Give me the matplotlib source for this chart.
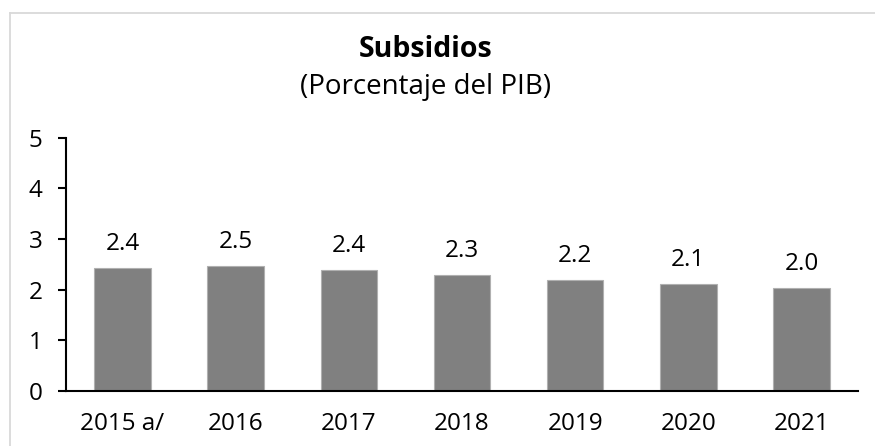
import matplotlib as mpl
mpl.use('Agg')
import matplotlib.pyplot as plt
from matplotlib.lines import Line2D

categorias = ["2015 a/", "2016", "2017", "2018", "2019", "2020", "2021"]
valores = [2.42, 2.47, 2.38, 2.29, 2.19, 2.11, 2.03]
etiquetas = ["2.4", "2.5", "2.4", "2.3", "2.2", "2.1", "2.0"]

plt.rcParams['font.family'] = ['Open Sans', 'DejaVu Sans']

fig = plt.figure(figsize=(8.75, 4.46), dpi=100)
ax = fig.add_axes([0.0754, 0.124, 0.9052, 0.567])

x = range(len(categorias))
ax.bar(x, valores, width=0.5, color='#808080', edgecolor='#b0b0b0', linewidth=0.8, zorder=2)

for i, v in enumerate(valores):
    ax.annotate(etiquetas[i], (i, v), xytext=(0, 13), textcoords='offset points',
                ha='center', va='baseline', fontsize=17.5)

ax.set_xlim(-0.5, len(categorias) - 0.5)
ax.set_ylim(0, 5)
ax.set_yticks([0, 1, 2, 3, 4, 5])
ax.set_xticks(list(x))
ax.set_xticklabels(categorias)

for s in ['top', 'right']:
    ax.spines[s].set_visible(False)
ax.spines['left'].set_linewidth(1.5)
ax.spines['bottom'].set_linewidth(1.5)
ax.tick_params(axis='y', length=6, width=1.5, pad=11, labelsize=17.5)
ax.tick_params(axis='x', length=0, pad=15, labelsize=17.5)

fig.text(0.486, 0.89, "Subsidios", ha='center', va='center', fontsize=20.5, fontweight='bold')
fig.text(0.486, 0.805, "(Porcentaje del PIB)", ha='center', va='center', fontsize=20)

# marco gris
fig.add_artist(Line2D([10/875, 10/875], [0, 1 - 13/446], color='#d9d9d9', linewidth=1.3))
fig.add_artist(Line2D([10/875, 1], [1 - 13/446, 1 - 13/446], color='#d9d9d9', linewidth=1.3))

fig.savefig('out.png', dpi=100)
